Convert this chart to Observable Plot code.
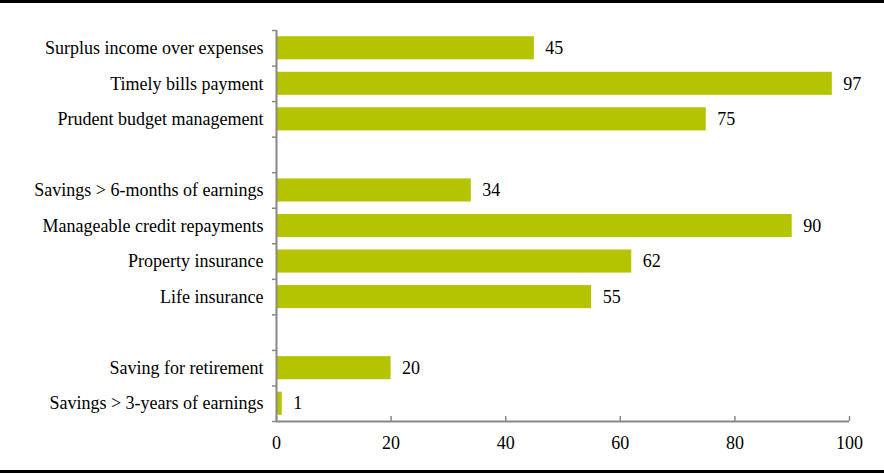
<!DOCTYPE html>
<html>
<head>
<meta charset="utf-8">
<script src="https://cdn.jsdelivr.net/npm/d3@7"></script>
<script src="https://cdn.jsdelivr.net/npm/@observablehq/plot@0.6"></script>
<style>
  html, body { margin: 0; padding: 0; background: #fff; }
  #frame { width: 884px; border-top: 3px solid #000; border-bottom: 3px solid #000; }
  #frame svg { display: block; }
  #frame svg, #frame svg g, #frame svg text {
    font-family: "Liberation Serif", "Times New Roman", Times, serif !important;
    font-size: 18px !important;
  }
</style>
</head>
<body>
<div id="frame"></div>
<script>
// Slots from top to bottom; empty strings are the gaps between groups
const categories = [
  "Surplus income over expenses",
  "Timely bills payment",
  "Prudent budget management",
  "",
  "Savings > 6-months of earnings",
  "Manageable credit repayments",
  "Property insurance",
  "Life insurance",
  "",
  "Saving for retirement",
  "Savings > 3-years of earnings"
];
const values = [45, 97, 75, null, 34, 90, 62, 55, null, 20, 1];
const xTicks = [0, 20, 40, 60, 80, 100];

const barColor = "#B4C400";
const axisColor = "#888888";

const rows = categories
  .map((label, slot) => ({label, slot, value: values[slot]}))
  .filter(d => d.value != null);
const nSlots = categories.length;

const W = 884, H = 467, mTop = 27, mBottom = 49;
const frameH = H - mTop - mBottom;

const chart = Plot.plot({
  width: W,
  height: H,
  marginLeft: 276,
  marginRight: 35,
  marginTop: mTop,
  marginBottom: mBottom,
  style: {fontFamily: "Liberation Serif, serif", fontSize: "18px", color: "#000", background: "#fff"},
  x: {domain: [0, 100]},
  y: {domain: [0, nSlots], reverse: true},
  marks: [
    Plot.rectX(rows, {
      x1: 0,
      x2: "value",
      y1: d => d.slot + 0.175,
      y2: d => d.slot + 0.825,
      fill: barColor
    }),
    Plot.text(rows, {
      x: "value",
      y: d => d.slot + 0.5,
      text: d => String(d.value),
      textAnchor: "start",
      dx: 11,
      fill: "#000"
    }),
    // category labels
    Plot.axisY({
      ticks: rows.map(d => d.slot + 0.5),
      tickSize: 0,
      tickPadding: 13,
      tickFormat: v => categories[Math.floor(v)],
      fill: "#000",
      label: null
    }),
    // boundary ticks on the y axis
    Plot.axisY({
      ticks: d3.range(0, nSlots + 1),
      tickSize: 4,
      tickFormat: () => "",
      stroke: axisColor,
      strokeWidth: 1.5,
      strokeOpacity: 1,
      label: null
    }),
    // x tick labels
    Plot.axisX({
      ticks: xTicks,
      tickSize: 0,
      tickPadding: 15,
      fill: "#000",
      label: null
    }),
    // inward x ticks
    Plot.ruleX(xTicks, {stroke: axisColor, strokeWidth: 1.5, insetTop: frameH - 5}),
    // axis lines
    Plot.ruleX([0], {stroke: axisColor, strokeWidth: 2}),
    Plot.ruleY([nSlots], {stroke: axisColor, strokeWidth: 2})
  ]
});

document.getElementById("frame").appendChild(chart);
</script>
</body>
</html>
